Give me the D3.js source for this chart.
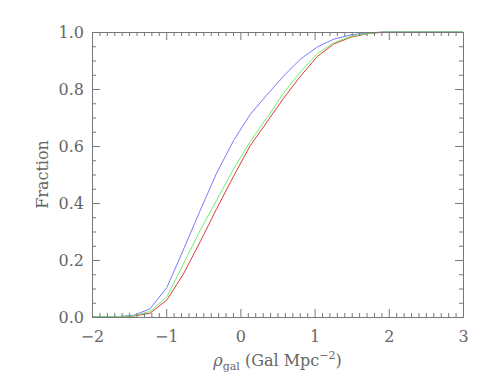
<!DOCTYPE html>
<html>
<head>
<meta charset="utf-8">
<script src="https://cdn.jsdelivr.net/npm/d3@7"></script>
<style>
    body { margin: 0; background: #fff; }
    svg text { font-family: "DejaVu Serif", serif; fill: #666; }
</style>
</head>
<body>
<div id="container"></div>
<script>
const margin = ({top: 32, right: 28, bottom: 65, left: 92});
const width = 491, height = 382;

// Data
const rho = [-2.0, -1.67, -1.44, -1.22, -0.99, -0.77, -0.54, -0.32, -0.09, 0.13,
    0.36, 0.58, 0.81, 1.04, 1.26, 1.49, 1.72, 1.94, 2.17, 3.0];
const fracRed = [0, 0, 0.003, 0.013, 0.06, 0.15, 0.265, 0.38, 0.495, 0.6,
    0.685, 0.767, 0.845, 0.915, 0.958, 0.982, 0.994, 1.0, 1.0, 1.0];
const fracBlue = [0, 0.001, 0.006, 0.028, 0.104, 0.235, 0.375, 0.505, 0.62, 0.71,
    0.78, 0.845, 0.905, 0.948, 0.975, 0.99, 0.997, 1.0, 1.0, 1.0];
const fracGreen = [0, 0.001, 0.004, 0.019, 0.071, 0.185, 0.305, 0.41, 0.52, 0.615,
    0.70, 0.785, 0.86, 0.925, 0.962, 0.985, 0.995, 1.0, 1.0, 1.0];
const xTicks = [-2, -1, 0, 1, 2, 3];
const yTicks = [0, 0.2, 0.4, 0.6, 0.8, 1.0];

const series = [
    {name: "red", values: fracRed, color: "#dd3a3a"},
    {name: "blue", values: fracBlue, color: "#7a7aff"},
    {name: "green", values: fracGreen, color: "#6fef6f"}
];

const svg = d3.select("#container").append("svg")
    .attr("width", width)
    .attr("height", height);

const x = d3.scaleLinear()
    .domain([-2, 3])
    .range([margin.left, width - margin.right]);
const y = d3.scaleLinear()
    .domain([0, 1])
    .range([height - margin.bottom, margin.top]);

// Lines
const line = d3.line()
    .x((d, i) => x(rho[i]))
    .y(d => y(d));
for (let s of series) {
    svg.append("path")
        .attr("fill", "none")
        .attr("stroke", s.color)
        .attr("stroke-width", 1)
        .attr("d", line(s.values));
}

// Axes (box with inward ticks on all four sides)
const xMinor = d3.range(-20, 31).map(d => d / 10).filter(d => !xTicks.some(t => Math.abs(t - d) < 1e-9));
const yMinor = d3.range(0, 21).map(d => d / 20).filter(d => !yTicks.some(t => Math.abs(t - d) < 1e-9));
const fmtX = d => d < 0 ? "\u2212" + Math.abs(d) : String(d);

function styleAxis(g) {
    g.selectAll("path, line").attr("stroke", "#777").attr("stroke-width", 1);
    g.selectAll("text").attr("font-size", 16).attr("fill", "#666")
        .attr("font-family", "DejaVu Serif, serif");
}

svg.append("g")
    .attr("transform", `translate(0,${height - margin.bottom})`)
    .call(d3.axisBottom(x).tickValues(xTicks).tickSize(-8).tickPadding(14).tickFormat(fmtX))
    .call(styleAxis);
svg.append("g")
    .attr("transform", `translate(0,${height - margin.bottom})`)
    .call(d3.axisBottom(x).tickValues(xMinor).tickSize(-4).tickFormat(""))
    .call(g => g.select(".domain").remove())
    .call(styleAxis);
svg.append("g")
    .attr("transform", `translate(0,${margin.top})`)
    .call(d3.axisTop(x).tickValues(xTicks).tickSize(-8).tickFormat(""))
    .call(styleAxis);
svg.append("g")
    .attr("transform", `translate(0,${margin.top})`)
    .call(d3.axisTop(x).tickValues(xMinor).tickSize(-4).tickFormat(""))
    .call(g => g.select(".domain").remove())
    .call(styleAxis);

svg.append("g")
    .attr("transform", `translate(${margin.left},0)`)
    .call(d3.axisLeft(y).tickValues(yTicks).tickSize(-8).tickPadding(8).tickFormat(d3.format(".1f")))
    .call(styleAxis);
svg.append("g")
    .attr("transform", `translate(${margin.left},0)`)
    .call(d3.axisLeft(y).tickValues(yMinor).tickSize(-4).tickFormat(""))
    .call(g => g.select(".domain").remove())
    .call(styleAxis);
svg.append("g")
    .attr("transform", `translate(${width - margin.right},0)`)
    .call(d3.axisRight(y).tickValues(yTicks).tickSize(-8).tickFormat(""))
    .call(styleAxis);
svg.append("g")
    .attr("transform", `translate(${width - margin.right},0)`)
    .call(d3.axisRight(y).tickValues(yMinor).tickSize(-4).tickFormat(""))
    .call(g => g.select(".domain").remove())
    .call(styleAxis);

// Titles
const xt = svg.append("text")
    .attr("text-anchor", "middle")
    .attr("x", (margin.left + width - margin.right) / 2)
    .attr("y", 366)
    .attr("font-size", 16);
xt.append("tspan").attr("font-style", "italic").text("\u03c1");
xt.append("tspan").attr("font-size", 11).attr("dy", 4).text("gal");
xt.append("tspan").attr("dy", -4).text(" (Gal Mpc");
xt.append("tspan").attr("font-size", 11).attr("dy", -7).text("\u22122");
xt.append("tspan").attr("dy", 7).text(")");

svg.append("text")
    .attr("text-anchor", "middle")
    .attr("transform", `translate(48,${(margin.top + height - margin.bottom) / 2}) rotate(-90)`)
    .attr("font-size", 16)
    .text("Fraction");
</script>
</body>
</html>
